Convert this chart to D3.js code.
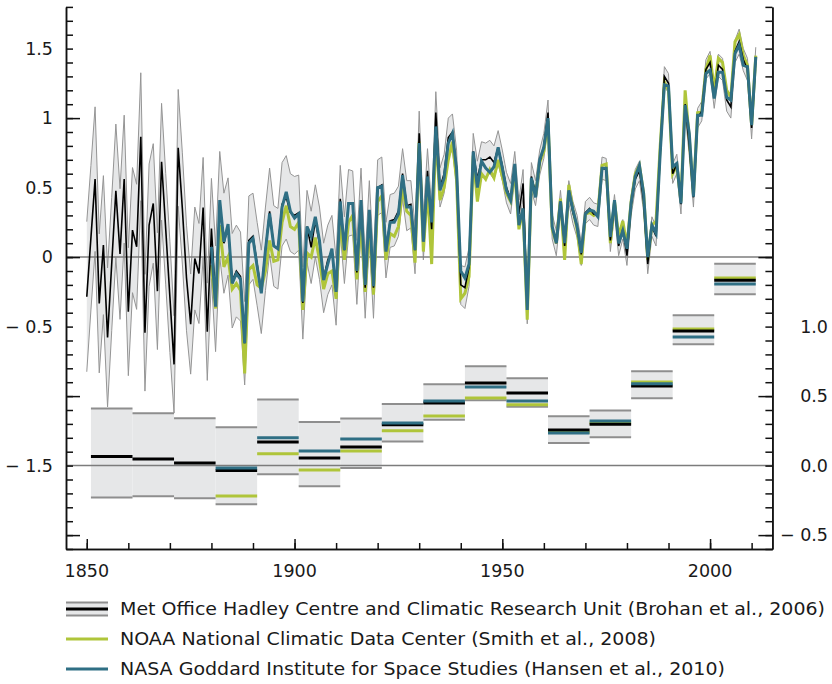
<!DOCTYPE html>
<html><head><meta charset="utf-8">
<script src="https://cdn.jsdelivr.net/npm/d3@7"></script>
<style>
body{margin:0;background:#fff}
text{font-family:"DejaVu Sans",Verdana,sans-serif;fill:#1a1a1a}
</style>
</head><body>
<svg id="c" width="832" height="684"></svg>
<script>
// ---------- DATA ----------
const firstYear = 1850;          // HadCRUT annual series starts here
const firstYearOther = 1880;     // NOAA / NASA start here

// Met Office Hadley Centre / CRU annual anomalies (left axis), 1850-2011
const hadcrut = [
 -0.285,0.14,0.561,-0.333,0.086,-0.578,-0.05,0.477,0.022,0.561,
 -0.393,0.194,0.074,0.866,-0.544,0.230,0.386,-0.245,0.686,0.2,
 -0.286,-0.772,0.786,0.35,-0.15,-0.482,-0.01,-0.118,0.357,-0.537,
 0.206,-0.30,0.38,0.10,0.22,-0.17,-0.10,-0.14,-0.62,0.12,
 0.15,-0.05,-0.25,0.06,0.33,0.08,0.06,0.38,0.43,0.32,
 0.3,0.32,-0.33,0.22,0.07,0.26,0.1,-0.15,-0.02,0.05,
 -0.25,0.42,0.05,0.39,0.39,-0.11,0.41,-0.22,0.33,-0.22,
 0.5,0.52,0.05,0.26,0.27,0.33,0.6,0.37,0.38,0.05,
 0.89,0.14,0.62,0.2,1.04,0.5,0.6,0.86,0.9,0.64,
 -0.2,-0.22,-0.07,0.76,0.56,0.7,0.7,0.72,0.68,0.79,
 0.66,0.5,0.42,0.66,0.31,0.53,-0.38,0.58,0.46,0.68,
 0.8,1.04,0.22,0.1,0.4,0.08,0.47,0.32,0.22,0.02,
 0.32,0.35,0.31,0.3,0.64,0.63,0.12,0.38,0.08,0.2,
 0.01,0.37,0.56,0.62,0.4,-0.05,0.22,0.15,0.76,1.3,
 1.25,0.6,0.67,0.38,1.1,0.8,0.43,1.0,1.05,1.35,
 1.4,1.15,1.38,1.35,1.13,1.08,1.48,1.55,1.42,1.35,
 0.93,1.43
];
// HadCRUT uncertainty half-width, 1850-2011
const hadUnc = [
 0.54,0.52,0.52,0.5,0.5,0.5,0.48,0.48,0.47,0.46,
 0.46,0.45,0.45,0.46,0.42,0.44,0.43,0.42,0.42,0.4,
 0.4,0.35,0.42,0.4,0.38,0.36,0.37,0.36,0.36,0.35,
 0.36,0.38,0.38,0.36,0.35,0.34,0.33,0.32,0.3,0.32,
 0.31,0.3,0.3,0.3,0.31,0.29,0.29,0.3,0.3,0.28,
 0.28,0.27,0.26,0.26,0.26,0.26,0.26,0.25,0.25,0.25,
 0.24,0.24,0.24,0.24,0.23,0.23,0.23,0.22,0.22,0.22,
 0.2,0.2,0.2,0.19,0.19,0.18,0.18,0.18,0.17,0.17,
 0.16,0.16,0.16,0.15,0.15,0.14,0.14,0.14,0.13,0.13,
 0.14,0.15,0.14,0.13,0.13,0.13,0.12,0.12,0.12,0.12,
 0.11,0.11,0.11,0.1,0.1,0.1,0.1,0.1,0.09,0.09,
 0.09,0.09,0.09,0.09,0.08,0.08,0.08,0.08,0.08,0.08,
 0.08,0.08,0.08,0.08,0.08,0.08,0.08,0.07,0.07,0.07,
 0.07,0.07,0.07,0.07,0.07,0.07,0.07,0.07,0.07,0.07,
 0.07,0.07,0.07,0.07,0.07,0.07,0.07,0.07,0.07,0.07,
 0.08,0.08,0.08,0.08,0.08,0.08,0.08,0.09,0.08,0.08,
 0.08,0.08
];
// NOAA NCDC annual anomalies, 1880-2011
const noaa = [
 -0.058,-0.37,0.23,-0.07,0.0,-0.23,-0.19,-0.24,-0.837,-0.09,
 -0.06,-0.2,-0.225,-0.1,0.12,-0.03,-0.02,0.25,0.37,0.22,
 0.2,0.25,-0.38,0.03,0.0,0.14,-0.02,-0.23,-0.12,-0.1,
 -0.3,0.28,-0.02,0.25,0.3,-0.16,0.28,-0.25,0.24,-0.27,
 0.4,0.44,-0.02,0.17,0.15,0.22,0.5,0.33,0.3,-0.04,
 0.83,0.04,0.5,-0.05,0.9,0.41,0.5,0.7,0.83,0.55,
 -0.3,-0.26,-0.14,0.73,0.4,0.6,0.56,0.63,0.57,0.7,
 0.58,0.46,0.4,0.62,0.2,0.34,-0.45,0.56,0.44,0.68,
 0.76,0.98,0.2,0.1,0.42,-0.02,0.52,0.34,0.2,-0.05,
 0.31,0.32,0.3,0.32,0.66,0.67,0.1,0.4,0.15,0.26,
 0.08,0.4,0.6,0.66,0.46,-0.02,0.23,0.26,0.8,1.26,
 1.2,0.6,0.66,0.4,1.2,0.85,0.45,1.04,1.05,1.35,
 1.45,1.2,1.43,1.4,1.2,1.15,1.55,1.6,1.45,1.38,
 0.95,1.45
];
// NASA GISS annual anomalies, 1880-2011
const nasa = [
 0.074,-0.357,0.41,0.11,0.237,-0.19,-0.118,-0.16,-0.62,0.10,
 0.134,-0.07,-0.26,0.05,0.314,0.08,0.06,0.36,0.47,0.33,
 0.28,0.31,-0.32,0.22,0.15,0.29,0.12,-0.165,-0.05,0.06,
 -0.25,0.4,0.05,0.386,0.386,-0.1,0.41,-0.2,0.34,-0.21,
 0.5,0.51,0.04,0.25,0.25,0.31,0.59,0.36,0.36,0.05,
 0.82,0.11,0.58,0.25,0.94,0.48,0.57,0.82,0.89,0.63,
 -0.1,-0.15,-0.05,0.76,0.5,0.69,0.64,0.61,0.65,0.79,
 0.64,0.48,0.41,0.67,0.23,0.35,-0.38,0.57,0.43,0.7,
 0.79,1.0,0.22,0.1,0.4,0.1,0.48,0.34,0.22,0.03,
 0.31,0.34,0.33,0.29,0.64,0.64,0.146,0.41,0.098,0.19,
 0.06,0.39,0.58,0.66,0.46,0.0,0.23,0.17,0.75,1.24,
 1.23,0.65,0.674,0.386,1.094,0.89,0.434,1.02,1.02,1.32,
 1.345,1.14,1.33,1.33,1.15,1.13,1.465,1.525,1.38,1.37,
 0.95,1.44
];

// Decadal means (right axis)
const decadeStart = [1851,1861,1871,1881,1891,1901,1911,1921,1931,1941,1951,1961,1971,1981,1991,2001];
const hadDec   = [0.065,0.048,0.019,-0.036,0.17,0.055,0.134,0.293,0.451,0.595,0.523,0.257,0.297,0.573,0.969,1.333];
const hadDecHi = [0.41,0.376,0.34,0.276,0.475,0.314,0.338,0.444,0.585,0.715,0.628,0.355,0.396,0.678,1.081,1.453];
const hadDecLo = [-0.23,-0.22,-0.235,-0.278,-0.062,-0.149,-0.017,0.173,0.33,0.47,0.424,0.163,0.204,0.484,0.873,1.232];
const noaaDec  = [null,null,null,-0.218,0.086,-0.031,0.105,0.25,0.357,0.487,0.437,0.24,0.307,0.602,0.983,1.35];
const nasaDec  = [null,null,null,-0.017,0.2,0.105,0.192,0.307,0.465,0.566,0.465,0.235,0.32,0.588,0.926,1.307];

// Tick labels
const xTickLabels = [1850,1900,1950,2000];
const leftLabels = [1.5,1,0.5,0,-0.5,-1.5];
const rightLabels = [1.0,0.5,0.0,-0.5];
const legendLabels = [
 "Met Office Hadley Centre and Climatic Research Unit (Brohan et al., 2006)",
 "NOAA National Climatic Data Center (Smith et al., 2008)",
 "NASA Goddard Institute for Space Studies (Hansen et al., 2010)"
];

// ---------- STYLE ----------
const C = {fill:"#e6e7e8", edge:"#8e8e8e", black:"#000", green:"#afc53a", teal:"#2f6f84", ref:"#7c7c7c", axis:"#111"};

// ---------- SCALES ----------
const svg = d3.select("#c");
const x = d3.scaleLinear().domain([1845,2015]).range([66,772.4]);
const y = d3.scaleLinear().domain([-2.1,1.8]).range([549,6.9]);
const yR = d3.scaleLinear().domain([-0.6,3.3]).range([549,6.9]);

const hadRows = hadcrut.map((v,i)=>({year:firstYear+i, v, lo:v-hadUnc[i], hi:v+hadUnc[i]}));
const noaaRows = noaa.map((v,i)=>({year:firstYearOther+i, v}));
const nasaRows = nasa.map((v,i)=>({year:firstYearOther+i, v}));
const decRows = decadeStart.map((s,i)=>({s, e:s+10, had:hadDec[i], hi:hadDecHi[i], lo:hadDecLo[i], noaa:noaaDec[i], nasa:nasaDec[i]}));

// ---------- DECADAL BOXES ----------
const gDec = svg.append("g");
gDec.selectAll("rect").data(decRows).join("rect")
  .attr("x",d=>x(d.s)).attr("width",d=>x(d.e)-x(d.s))
  .attr("y",d=>yR(d.hi)).attr("height",d=>yR(d.lo)-yR(d.hi))
  .attr("fill",C.fill);
function hbar(g, data, key, color, w){
  g.selectAll(null).data(data.filter(d=>d[key]!=null)).join("line")
   .attr("x1",d=>x(d.s)).attr("x2",d=>x(d.e))
   .attr("y1",d=>yR(d[key])).attr("y2",d=>yR(d[key]))
   .attr("stroke",color).attr("stroke-width",w);
}
hbar(gDec, decRows, "hi", C.edge, 2);
hbar(gDec, decRows, "lo", C.edge, 2);

// ---------- ANNUAL BAND ----------
const area = d3.area().x(d=>x(d.year)).y0(d=>y(d.lo)).y1(d=>y(d.hi));
svg.append("path").datum(hadRows).attr("d",area).attr("fill",C.fill);
const lineLo = d3.line().x(d=>x(d.year)).y(d=>y(d.lo));
const lineHi = d3.line().x(d=>x(d.year)).y(d=>y(d.hi));
svg.append("path").datum(hadRows).attr("d",lineLo).attr("fill","none").attr("stroke","#959595").attr("stroke-width",1);
svg.append("path").datum(hadRows).attr("d",lineHi).attr("fill","none").attr("stroke","#959595").attr("stroke-width",1);

// reference lines
[0,-1.5].forEach(v=>{
  svg.append("line").attr("x1",x(1845)).attr("x2",x(2015)).attr("y1",y(v)).attr("y2",y(v))
    .attr("stroke",C.ref).attr("stroke-width",1.5);
});

// decadal series lines (over the reference line)
const gDecL = svg.append("g");
hbar(gDecL.append("g"), decRows, "noaa", C.green, 3);
hbar(gDecL.append("g"), decRows, "had", C.black, 3);
hbar(gDecL.append("g"), decRows, "nasa", C.teal, 3);

// annual series lines
const line = d3.line().x(d=>x(d.year)).y(d=>y(d.v)).curve(d3.curveLinear);
svg.append("path").datum(noaaRows).attr("d",line).attr("fill","none").attr("stroke",C.green).attr("stroke-width",3).attr("stroke-linejoin","miter");
svg.append("path").datum(hadRows).attr("d",line).attr("fill","none").attr("stroke",C.black).attr("stroke-width",1.6);
svg.append("path").datum(nasaRows).attr("d",line).attr("fill","none").attr("stroke",C.teal).attr("stroke-width",3).attr("stroke-linejoin","miter");

// ---------- AXES ----------
const minorY = d3.range(-21,19).map(k=>k/10);
const majorY = [-2,-1,0,1];
function styleAxis(g){ g.selectAll("path,line").attr("stroke",C.axis).attr("stroke-width",1.5); g.selectAll("text").remove(); }
svg.append("g").attr("transform","translate(66,0)")
  .call(d3.axisLeft(y).tickValues(minorY).tickSize(-7).tickSizeOuter(0)).call(styleAxis);
svg.append("g").attr("transform","translate(66,0)")
  .call(d3.axisLeft(y).tickValues(majorY).tickSize(-14).tickSizeOuter(0)).call(styleAxis);
svg.append("g").attr("transform","translate(772.4,0)")
  .call(d3.axisRight(y).tickValues(minorY).tickSize(-7).tickSizeOuter(0)).call(styleAxis);
svg.append("g").attr("transform","translate(772.4,0)")
  .call(d3.axisRight(y).tickValues(majorY).tickSize(-14).tickSizeOuter(0)).call(styleAxis);

const minorX = d3.range(1850,2011,10);
svg.append("g").attr("transform","translate(0,549)")
  .call(d3.axisBottom(x).tickValues(minorX).tickSize(-6).tickSizeOuter(0)).call(styleAxis);
svg.append("g").attr("transform","translate(0,549)")
  .call(d3.axisBottom(x).tickValues(xTickLabels).tickSize(-10).tickSizeOuter(0)).call(styleAxis);

const fmt = v => (v<0 ? "\u2212 " : "") + Math.abs(v);
const fmtR = v => (v<0 ? "\u2212 " : "") + Math.abs(v).toFixed(1);
const FS = 17.5;
svg.append("g").selectAll("text").data(leftLabels).join("text")
  .attr("x",53).attr("y",d=>y(d)).attr("dy","0.36em").attr("text-anchor","end")
  .style("font-size",FS+"px").text(fmt);
svg.append("g").selectAll("text").data(rightLabels).join("text")
  .attr("x",828).attr("y",d=>yR(d)).attr("dy","0.36em").attr("text-anchor","end")
  .style("font-size",FS+"px").text(fmtR);
svg.append("g").selectAll("text").data(xTickLabels).join("text")
  .attr("x",d=>x(d)).attr("y",577).attr("text-anchor","middle")
  .style("font-size",FS+"px").text(d=>d);

// ---------- LEGEND ----------
const lg = svg.append("g");
const rowY = [609,639,669];
lg.append("rect").attr("x",66).attr("y",rowY[0]-6.5).attr("width",42).attr("height",13).attr("fill",C.fill);
lg.append("line").attr("x1",66).attr("x2",108).attr("y1",rowY[0]-6.5).attr("y2",rowY[0]-6.5).attr("stroke",C.edge).attr("stroke-width",2);
lg.append("line").attr("x1",66).attr("x2",108).attr("y1",rowY[0]+6.5).attr("y2",rowY[0]+6.5).attr("stroke",C.edge).attr("stroke-width",2);
lg.append("line").attr("x1",66).attr("x2",108).attr("y1",rowY[0]).attr("y2",rowY[0]).attr("stroke",C.black).attr("stroke-width",3);
lg.append("line").attr("x1",66).attr("x2",108).attr("y1",rowY[1]).attr("y2",rowY[1]).attr("stroke",C.green).attr("stroke-width",3);
lg.append("line").attr("x1",66).attr("x2",108).attr("y1",rowY[2]).attr("y2",rowY[2]).attr("stroke",C.teal).attr("stroke-width",3);
const lt = lg.selectAll("text").data(legendLabels).join("text")
  .attr("x",120).attr("y",(d,i)=>rowY[i]).attr("dy","0.36em")
  .style("font-size","18px").text(d=>d);
// squeeze glyphs slightly so the first line spans ~705px like the reference
const ratio = 705 / lt.nodes()[0].getComputedTextLength();
lt.each(function(){
  const w = this.getComputedTextLength();
  d3.select(this).attr("textLength", w*ratio).attr("lengthAdjust","spacingAndGlyphs");
});
</script>
</body></html>
